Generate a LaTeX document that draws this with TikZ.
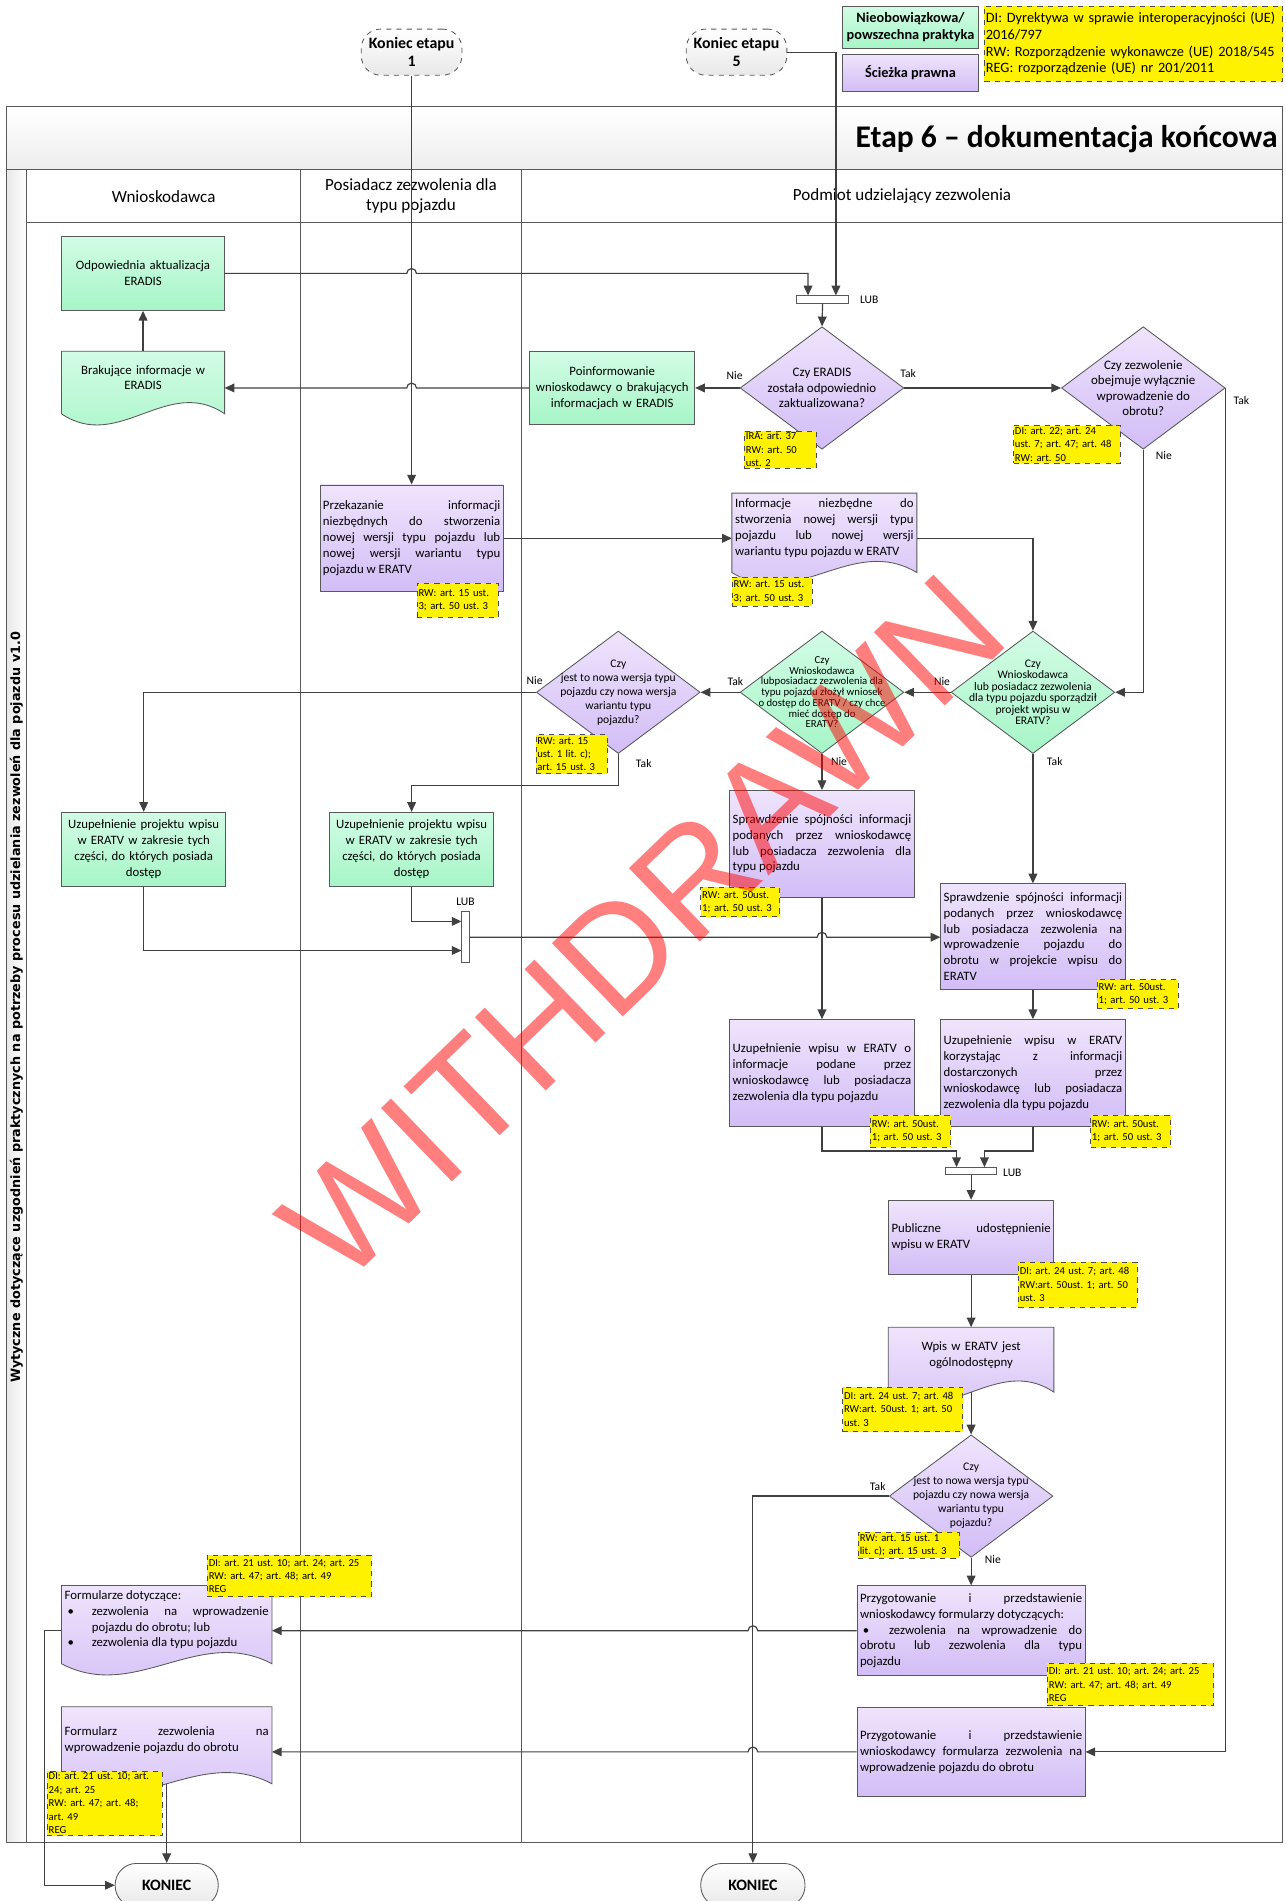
\documentclass[tikz,border=0pt]{standalone}
\usepackage{fontspec}
\setmainfont{Carlito}
\newfontfamily\sidefont{DejaVu Sans}
\newfontfamily\markfont{Liberation Sans}
\usetikzlibrary{calc,shapes.geometric,arrows.meta}
\pgfdeclarelayer{bg}
\pgfsetlayers{bg,main}

\definecolor{grtop}{RGB}{210,252,229}
\definecolor{grbot}{RGB}{166,245,199}
\definecolor{prtop}{RGB}{239,228,252}
\definecolor{prbot}{RGB}{210,189,246}
\definecolor{lincol}{RGB}{64,64,64}
\definecolor{bordcol}{RGB}{89,89,89}

\setlength\parindent{0pt}
\frenchspacing
\hyphenpenalty=10000
\exhyphenpenalty=10000
\tolerance=10000

\tikzset{
  arr/.style={draw=lincol,line width=0.7pt,-{Triangle[length=0.2cm,width=0.18cm]}},
  txt/.style={font=\fontsize{7.5}{9.3}\selectfont},
  grn/.style={draw=bordcol,line width=0.5pt,top color=grtop,bottom color=grbot,inner xsep=0.06cm,inner ysep=0pt},
  prp/.style={draw=bordcol,line width=0.5pt,top color=prtop,bottom color=prbot,inner xsep=0.06cm,inner ysep=0pt},
  docn/.style={inner xsep=0.06cm,inner ysep=0pt},
  note/.style={draw=gray!60!black,dashed,fill=yellow,line width=0.4pt,inner sep=0.03cm,align=left,font=\fontsize{6.25}{7.9}\selectfont},
  dec/.style={diamond,draw=bordcol,line width=0.5pt,minimum width=3.375cm,minimum height=2.525cm,inner sep=0pt},
  dtxt/.style={align=center,inner sep=0pt},
  lub/.style={draw=bordcol,fill=white,line width=0.5pt,inner sep=0pt},
  lbl/.style={font=\fontsize{6.8}{8}\selectfont,inner sep=0pt},
  term/.style={draw=bordcol,line width=0.5pt,top color=white,bottom color=gray!18,font=\bfseries\fontsize{9.3}{10.6}\selectfont,align=center,inner sep=0pt},
}

% wavy bottom of a document node, drawn behind its text
\newcommand\docshape[2]{%
  \begin{pgfonlayer}{bg}
    \path[#2] (#1.north west) -- (#1.north east) -- ($(#1.south east)+(0,8)$)
      .. controls ($(#1.south east)!0.35!(#1.south west)+(0,-24)$) and ($(#1.south west)!0.35!(#1.south east)+(0,40)$) .. ($(#1.south west)+(0,8)$) -- cycle;
  \end{pgfonlayer}}
% bullet item inside a justified node
\newcommand\bitem[1]{\par\noindent\hangindent=#1\hangafter=1\makebox[#1][l]{\hspace{0.06cm}\textbullet}}

\begin{document}
\begin{tikzpicture}[x=0.025cm,y=-0.025cm,txt]
  \useasboundingbox (0,0) rectangle (1060,1568);

  % pool and lanes
  \draw[bordcol,top color=white,bottom color=gray!14] (5,88) rectangle (1058,140);
  \node[anchor=east,inner sep=0pt,font=\bfseries\fontsize{18.5}{20}\selectfont] (title) at (1054,115) {Etap 6 – dokumentacja końcowa};
  \draw[bordcol,left color=gray!18,right color=white] (5,140) rectangle (22,1520);
  \draw[bordcol] (22,140) rectangle (1058,1520);
  \draw[bordcol] (22,183) -- (1058,183);
  \draw[bordcol] (248,140) -- (248,1520);
  \draw[bordcol] (430,140) -- (430,1520);
  \node[rotate=90,inner sep=0pt,font=\sidefont\bfseries\fontsize{7.5}{8}\selectfont] (side) at (13.5,831) {Wytyczne dotyczące uzgodnień praktycznych na potrzeby procesu udzielania zezwoleń dla pojazdu v1.0};
  \node[font=\fontsize{10}{11.7}\selectfont] (h1) at (135,162) {Wnioskodawca};
  \node[font=\fontsize{10}{11.7}\selectfont,align=center] (h2) at (339,162) {Posiadacz zezwolenia dla\\typu pojazdu};
  \node[font=\fontsize{10}{11.7}\selectfont] (h3) at (744,162) {Podmiot udzielający zezwolenia};

  % legend
  \node[grn,align=center,minimum width=2.8cm,minimum height=0.875cm,font=\bfseries\fontsize{8.4}{10}\selectfont] (lg1) at (751,22.5) {Nieobowiązkowa/\\powszechna praktyka};
  \node[prp,align=center,minimum width=2.8cm,minimum height=0.75cm,font=\bfseries\fontsize{8.4}{10}\selectfont] (lg2) at (751,60) {Ścieżka prawna};
  \node[note,text width=6.09cm,minimum height=1.55cm,font=\fontsize{8.4}{9.8}\selectfont] (lg3) at (935,36) {DI: Dyrektywa w sprawie interoperacyjności (UE)\\2016/797\\RW: Rozporządzenie wykonawcze (UE) 2018/545\\REG: rozporządzenie (UE) nr 201/2011};

  % start and end
  \node[term,dashed,rounded corners=0.4cm,minimum width=2.075cm,minimum height=0.95cm] (ke1) at (339.5,43) {Koniec etapu\\1};
  \node[term,dashed,rounded corners=0.4cm,minimum width=2.075cm,minimum height=0.95cm] (ke5) at (607.5,43) {Koniec etapu\\5};
  \node[term,rounded corners=0.44cm,minimum width=2.125cm,minimum height=0.9cm] (koniec1) at (137.5,1555) {KONIEC};
  \node[term,rounded corners=0.44cm,minimum width=2.15cm,minimum height=0.9cm] (koniec2) at (621,1555) {KONIEC};

  % ERADIS
  \node[grn,align=center,text width=3.23cm,minimum height=1.525cm] (odp) at (118,225.5) {Odpowiednia aktualizacja\\ERADIS};
  \node[docn,align=center,text width=3.23cm,minimum height=1.075cm] (brak) at (118,311.5) {Brakujące informacje w\\ERADIS};
  \docshape{brak}{grn}
  \node[grn,align=center,text width=3.28cm,minimum height=1.5cm] (poinf) at (505,320) {Poinformowanie\\wnioskodawcy o brakujących\\informacjach w ERADIS};
  \node[lub,minimum width=1.075cm,minimum height=0.15cm] (lub1) at (678.5,247) {};
  \node[dec,top color=prtop,bottom color=prbot] (d1) at (678,320) {};
  \node[dtxt,font=\fontsize{7.6}{8.9}\selectfont] (d1t) at (d1) {Czy ERADIS\\została odpowiednio\\zaktualizowana?};
  \node[dec,top color=prtop,bottom color=prbot] (d2) at (943,320) {};
  \node[dtxt,font=\fontsize{7.6}{8.9}\selectfont] (d2t) at (d2) {Czy zezwolenie\\obejmuje wyłącznie\\wprowadzenie do\\obrotu?};

  % ERATV
  \node[prp,align=justify,text width=3.655cm,minimum height=2.2cm] (przek) at (339.5,444) {Przekazanie informacji\linebreak niezbędnych do stworzenia\linebreak nowej wersji typu pojazdu lub\linebreak nowej wersji wariantu typu\linebreak pojazdu w ERATV};
  \node[docn,align=justify,text width=3.68cm,minimum height=1.425cm] (info) at (680,435.5) {Informacje niezbędne do\linebreak stworzenia nowej wersji typu\linebreak pojazdu lub nowej wersji\linebreak wariantu typu pojazdu w ERATV};
  \docshape{info}{prp}
  \node[dec,top color=grtop,bottom color=grbot] (d4) at (852,571) {};
  \node[dtxt,font=\fontsize{6.8}{6.75}\selectfont] (d4t) at (d4) {Czy\\Wnioskodawca\\lub posiadacz zezwolenia\\dla typu pojazdu sporządził\\projekt wpisu w\\ERATV?};
  \node[dec,top color=grtop,bottom color=grbot] (d3) at (678,571) {};
  \node[dtxt,font=\fontsize{6.3}{6.3}\selectfont] (d3t) at (d3) {Czy\\Wnioskodawca\\lubposiadacz zezwolenia dla\\typu pojazdu złożył wniosek\\o dostęp do ERATV / czy chce\\mieć dostęp do\\ERATV?};
  \node[dec,top color=prtop,bottom color=prbot] (d5) at (510,571) {};
  \node[dtxt,font=\fontsize{6.8}{8.2}\selectfont] (d5t) at (d5) {Czy\\jest to nowa wersja typu\\pojazdu czy nowa wersja\\wariantu typu\\pojazdu?};
  \node[grn,align=center,text width=3.255cm,minimum height=1.525cm] (upd1) at (118.5,700.5) {Uzupełnienie projektu wpisu\\w ERATV w zakresie tych\\części, do których posiada\\dostęp};
  \node[grn,align=center,text width=3.255cm,minimum height=1.525cm] (upd2) at (339.5,700.5) {Uzupełnienie projektu wpisu\\w ERATV w zakresie tych\\części, do których posiada\\dostęp};
  \node[lub,minimum width=0.15cm,minimum height=1.05cm] (lub2) at (384,773) {};
  \node[prp,align=justify,text width=3.68cm,minimum height=2.2cm] (check1) at (678,696) {Sprawdzenie spójności informacji\linebreak podanych przez wnioskodawcę\linebreak lub posiadacza zezwolenia dla\linebreak typu pojazdu};
  \node[prp,align=justify,text width=3.68cm,minimum height=2.175cm] (check2) at (852,772.5) {Sprawdzenie spójności informacji\linebreak podanych przez wnioskodawcę\linebreak lub posiadacza zezwolenia na\linebreak wprowadzenie pojazdu do\linebreak obrotu w projekcie wpisu do\linebreak ERATV};
  \node[prp,align=justify,text width=3.68cm,minimum height=2.2cm] (uzu1) at (678,885) {Uzupełnienie wpisu w ERATV o\linebreak informacje podane przez\linebreak wnioskodawcę lub posiadacza\linebreak zezwolenia dla typu pojazdu};
  \node[prp,align=justify,text width=3.68cm,minimum height=2.2cm] (uzu2) at (852,885) {Uzupełnienie wpisu w ERATV\linebreak korzystając z informacji\linebreak dostarczonych przez\linebreak wnioskodawcę lub posiadacza\linebreak zezwolenia dla typu pojazdu};
  \node[lub,minimum width=1.05cm,minimum height=0.15cm] (lub3) at (801,966) {};
  \node[prp,align=justify,text width=3.28cm,minimum height=1.525cm] (pub) at (801,1020.5) {Publiczne udostępnienie\linebreak wpisu w ERATV};
  \node[docn,align=center,text width=3.28cm,minimum height=1.125cm] (wpis) at (801,1117.5) {Wpis w ERATV jest\\ogólnodostępny};
  \docshape{wpis}{prp}
  \node[dec,top color=prtop,bottom color=prbot] (d6) at (801,1234) {};
  \node[dtxt,font=\fontsize{6.8}{8.2}\selectfont] (d6t) at (d6) {Czy\\jest to nowa wersja typu\\pojazdu czy nowa wersja\\wariantu typu\\pojazdu?};

  % forms
  \node[prp,align=justify,text width=4.58cm,minimum height=1.85cm] (prep1) at (801,1345) {Przygotowanie i przedstawienie\linebreak wnioskodawcy formularzy dotyczących:\bitem{0.6cm}zezwolenia na wprowadzenie do\linebreak obrotu lub zezwolenia dla typu\linebreak pojazdu};
  \node[prp,align=justify,text width=4.58cm,minimum height=1.85cm] (prep2) at (801,1445) {Przygotowanie i przedstawienie\linebreak wnioskodawcy formularza zezwolenia na\linebreak wprowadzenie pojazdu do obrotu};
  \node[docn,align=justify,text width=4.205cm,minimum height=1.4cm] (form1) at (137.5,1336) {Formularze dotyczące:\bitem{0.56cm}zezwolenia na wprowadzenie\linebreak pojazdu do obrotu; lub\bitem{0.56cm}zezwolenia dla typu pojazdu};
  \docshape{form1}{prp}
  \node[docn,align=justify,text width=4.205cm,minimum height=1.375cm] (form2) at (137.5,1435.5) {Formularz zezwolenia na\linebreak wprowadzenie pojazdu do obrotu};
  \docshape{form2}{prp}

  % connectors
  \draw[arr] (ke1.south) -- (przek.north);
  \draw[arr] (ke5.east) -| ([xshift=0.275cm]lub1.north);
  \draw[arr] (odp.east) -- (335.5,225.5) arc[start angle=180,end angle=0,radius=0.1cm] -| ([xshift=-0.3cm]lub1.north);
  \draw[arr] (lub1.south) -- (d1.north);
  \draw[arr] (d1.west) -- (poinf.east);
  \draw[arr] (poinf.west) -- (343.5,320) arc[start angle=0,end angle=180,radius=0.1cm] -- (brak.east |- poinf.west);
  \draw[arr] (brak.north) -- (odp.south);
  \draw[arr] (d1.east) -- (d2.west);
  \draw[arr] (d2.east) |- (prep2.east);
  \draw[arr] (d2.south) |- (d4.east);
  \draw[arr] (przek.east) -- (info.west |- przek.east);
  \draw[arr] (info.east |- przek.east) -| (d4.north);
  \draw[arr] (d4.west) -- (d3.east);
  \draw[arr] (d4.south) -- (check2.north);
  \draw[arr] (d3.west) -- (d5.east);
  \draw[arr] (d3.south) -- (check1.north);
  \draw[arr] (d5.west) -| (upd1.north);
  \draw[arr] (d5.south) -- ++(0,26) -| (upd2.north);
  \draw[arr] (upd2.south) |- ([yshift=0.325cm]lub2.west);
  \draw[arr] (upd1.south) |- ([yshift=-0.275cm]lub2.west);
  \draw[arr] (lub2.east) -- (674,773) arc[start angle=180,end angle=0,radius=0.1cm] -- (check2.west |- lub2.east);
  \draw[arr] (check1.south) -- (uzu1.north);
  \draw[arr] (check2.south) -- (uzu2.north);
  \draw[arr] (uzu1.south) -- ++(0,20) -| ([xshift=-0.3cm]lub3.north);
  \draw[arr] (uzu2.south) -- ++(0,20) -| ([xshift=0.275cm]lub3.north);
  \draw[arr] (lub3.south) -- (pub.north);
  \draw[arr] (pub.south) -- (wpis.north);
  \draw[arr] ($(wpis.south)+(0,8)$) -- (d6.north);
  \draw[arr] (d6.west) -| (koniec2.north);
  \draw[arr] (d6.south) -- (prep1.north);
  \draw[arr] (prep1.west) -- (625,1345) arc[start angle=0,end angle=180,radius=0.1cm] -- (form1.east |- prep1.west);
  \draw[arr] (prep2.west) -- (625,1445) arc[start angle=0,end angle=180,radius=0.1cm] -- (form2.east |- prep2.west);
  \draw[arr] (form1.west |- prep1.west) -- ++(-14,0) |- (koniec1.west);
  \draw[arr] ($(form2.south)+(0,8)$) -- (koniec1.north);

  % branch labels
  \node[lbl] (l1) at (606,310) {Nie};
  \node[lbl] (l2) at (749,308) {Tak};
  \node[lbl] (l3) at (1024,330) {Tak};
  \node[lbl] (l4) at (960,376) {Nie};
  \node[lbl] (l5) at (777,562) {Nie};
  \node[lbl] (l6) at (870,628.5) {Tak};
  \node[lbl] (l7) at (606.5,562) {Tak};
  \node[lbl] (l8) at (692,628.5) {Nie};
  \node[lbl] (l9) at (441,561) {Nie};
  \node[lbl] (l10) at (531,630) {Tak};
  \node[lbl] (l11) at (724,1226) {Tak};
  \node[lbl] (l12) at (819,1286) {Nie};
  \node[lbl] (lb1) at (717,247) {LUB};
  \node[lbl] (lb2) at (384,744) {LUB};
  \node[lbl] (lb3) at (835,967) {LUB};

  % legal notes
  \node[note,text width=1.415cm,minimum height=0.75cm] (n1) at (643.5,371) {IRA: art. 37\\RW: art. 50\\ust. 2};
  \node[note,text width=2.14cm,minimum height=0.775cm] (n2) at (880,366.5) {DI: art. 22; art. 24\\ust. 7; art. 47; art. 48\\RW: art. 50};
  \node[note,text width=1.59cm,minimum height=0.6cm] (n3) at (637,488) {RW: art. 15 ust.\\3; art. 50 ust. 3};
  \node[note,text width=1.615cm,minimum height=0.7cm] (n4) at (377.5,495) {RW: art. 15 ust.\\3; art. 50 ust. 3};
  \node[note,text width=1.415cm,minimum height=0.8cm] (n5) at (471.5,622) {RW: art. 15\\ust. 1 lit. c);\\art. 15 ust. 3};
  \node[note,text width=1.565cm,minimum height=0.6cm] (n6) at (610.5,744) {RW: art. 50ust.\\1; art. 50 ust. 3};
  \node[note,text width=1.615cm,minimum height=0.6cm] (n7) at (938.5,820) {RW: art. 50ust.\\1; art. 50 ust. 3};
  \node[note,text width=1.59cm,minimum height=0.65cm] (n8) at (751,933) {RW: art. 50ust.\\1; art. 50 ust. 3};
  \node[note,text width=1.59cm,minimum height=0.65cm] (n9) at (932.5,933) {RW: art. 50ust.\\1; art. 50 ust. 3};
  \node[note,text width=2.39cm,minimum height=0.925cm] (n10) at (889,1059.5) {DI: art. 24 ust. 7; art. 48\\RW:art. 50ust. 1; art. 50\\ust. 3};
  \node[note,text width=2.415cm,minimum height=0.925cm] (n11) at (744.5,1162.5) {DI: art. 24 ust. 7; art. 48\\RW:art. 50ust. 1; art. 50\\ust. 3};
  \node[note,text width=2.015cm,minimum height=0.525cm] (n12) at (749.5,1274.5) {RW: art. 15 ust. 1\\lit. c); art. 15 ust. 3};
  \node[note,text width=3.365cm,minimum height=0.875cm] (n13) at (932.5,1389.5) {DI: art. 21 ust. 10; art. 24; art. 25\\RW: art. 47; art. 48; art. 49\\REG};
  \node[note,text width=3.315cm,minimum height=0.85cm] (n14) at (238.5,1300) {DI: art. 21 ust. 10; art. 24; art. 25\\RW: art. 47; art. 48; art. 49\\REG};
  \node[note,text width=2.315cm,minimum height=1.325cm] (n15) at (86.5,1487.5) {DI: art. 21 ust. 10; art.\\24; art. 25\\RW: art. 47; art. 48;\\art. 49\\REG};

  % watermark
  \node[rotate=44,text=red,opacity=0.5,inner sep=0pt,font=\markfont\fontsize{87}{87}\selectfont] (wm) at (530,765) {WITHDRAWN};
\end{tikzpicture}
\end{document}
